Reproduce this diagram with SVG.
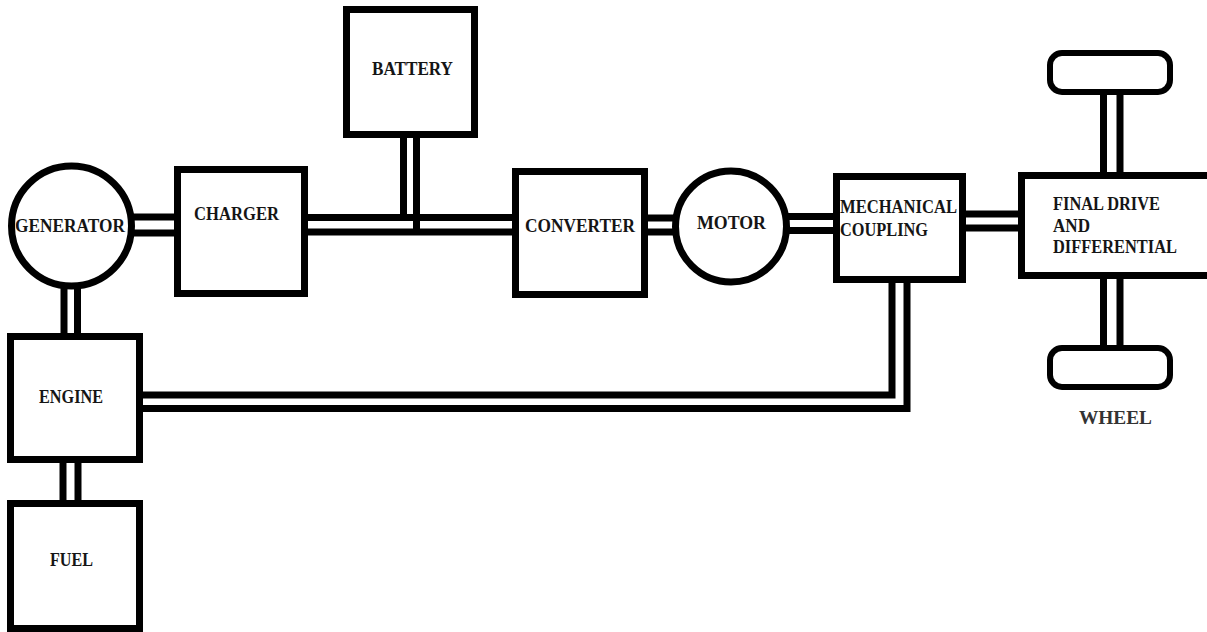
<svg xmlns="http://www.w3.org/2000/svg" width="1207" height="632" viewBox="0 0 1207 632">
<style>
.box{fill:#fff;stroke:#000;stroke-width:7}
.wheel{fill:#fff;stroke:#000;stroke-width:6}
.ln{fill:none;stroke:#000;stroke-width:7;stroke-linejoin:miter;stroke-linecap:butt}
.t{font-family:"Liberation Serif","Times New Roman",serif;font-weight:bold;font-size:19px;fill:#151515}
</style>
<rect width="1207" height="632" fill="#fff"/>
<g id="connectors">
<line class="ln" x1="128" y1="217" x2="178" y2="217"/>
<line class="ln" x1="128" y1="233" x2="178" y2="233"/>
<line class="ln" x1="304" y1="217.5" x2="516" y2="217.5"/>
<line class="ln" x1="304" y1="232" x2="516" y2="232"/>
<line class="ln" x1="403.5" y1="134" x2="403.5" y2="217.5"/>
<line class="ln" x1="416.5" y1="134" x2="416.5" y2="235"/>
<line class="ln" x1="644" y1="218" x2="677" y2="218"/>
<line class="ln" x1="644" y1="232" x2="677" y2="232"/>
<line class="ln" x1="785" y1="216.5" x2="837" y2="216.5"/>
<line class="ln" x1="785" y1="230.5" x2="837" y2="230.5"/>
<line class="ln" x1="962" y1="214" x2="1022" y2="214"/>
<line class="ln" x1="962" y1="228" x2="1022" y2="228"/>
<line class="ln" x1="1103.5" y1="92" x2="1103.5" y2="176"/>
<line class="ln" x1="1120" y1="92" x2="1120" y2="176"/>
<line class="ln" x1="1103.5" y1="275" x2="1103.5" y2="348"/>
<line class="ln" x1="1120" y1="275" x2="1120" y2="348"/>
<line class="ln" x1="64" y1="284" x2="64" y2="337"/>
<line class="ln" x1="77.5" y1="284" x2="77.5" y2="337"/>
<line class="ln" x1="63" y1="459" x2="63" y2="504"/>
<line class="ln" x1="78" y1="459" x2="78" y2="504"/>
<polyline class="ln" points="139,395 892,395 892,279"/>
<polyline class="ln" points="139,408.5 907,408.5 907,279"/>
</g>
<g id="generator">
<circle class="box" cx="71.5" cy="226" r="60"/>
<text class="t" x="15" y="232" textLength="110" lengthAdjust="spacingAndGlyphs">GENERATOR</text>
</g>
<g id="charger">
<rect class="box" x="177.5" y="169.5" width="127" height="124"/>
<text class="t" x="194" y="220" textLength="85" lengthAdjust="spacingAndGlyphs">CHARGER</text>
</g>
<g id="battery">
<rect class="box" x="346.5" y="9.5" width="128" height="125"/>
<text class="t" x="372" y="75" textLength="81" lengthAdjust="spacingAndGlyphs">BATTERY</text>
</g>
<g id="converter">
<rect class="box" x="515.5" y="171.5" width="129" height="123"/>
<text class="t" x="525" y="232" textLength="110" lengthAdjust="spacingAndGlyphs">CONVERTER</text>
</g>
<g id="motor">
<circle class="box" cx="731" cy="226.5" r="55.5"/>
<text class="t" x="697" y="229" textLength="69" lengthAdjust="spacingAndGlyphs">MOTOR</text>
</g>
<g id="coupling">
<rect class="box" x="836.5" y="176.5" width="126" height="103"/>
<text class="t" x="840" y="213" textLength="117" lengthAdjust="spacingAndGlyphs">MECHANICAL</text>
<text class="t" x="840" y="236" textLength="88" lengthAdjust="spacingAndGlyphs">COUPLING</text>
</g>
<g id="final-drive">
<rect class="box" x="1021.5" y="175.5" width="200" height="100"/>
<text class="t" x="1053" y="210" textLength="107" lengthAdjust="spacingAndGlyphs">FINAL DRIVE</text>
<text class="t" x="1053" y="232" textLength="37" lengthAdjust="spacingAndGlyphs">AND</text>
<text class="t" x="1053" y="253" textLength="124" lengthAdjust="spacingAndGlyphs">DIFFERENTIAL</text>
</g>
<g id="wheel-top">
<rect class="wheel" x="1050" y="53" width="120" height="39" rx="12"/>
</g>
<g id="wheel-bottom">
<rect class="wheel" x="1050" y="348" width="120" height="39" rx="12"/>
<text class="t" x="1079" y="424" textLength="73" lengthAdjust="spacingAndGlyphs" style="fill:#333">WHEEL</text>
</g>
<g id="engine">
<rect class="box" x="10.5" y="336.5" width="129" height="123"/>
<text class="t" x="39" y="403" textLength="64" lengthAdjust="spacingAndGlyphs">ENGINE</text>
</g>
<g id="fuel">
<rect class="box" x="10.5" y="503.5" width="129" height="125"/>
<text class="t" x="50" y="566" textLength="43" lengthAdjust="spacingAndGlyphs">FUEL</text>
</g>
</svg>
